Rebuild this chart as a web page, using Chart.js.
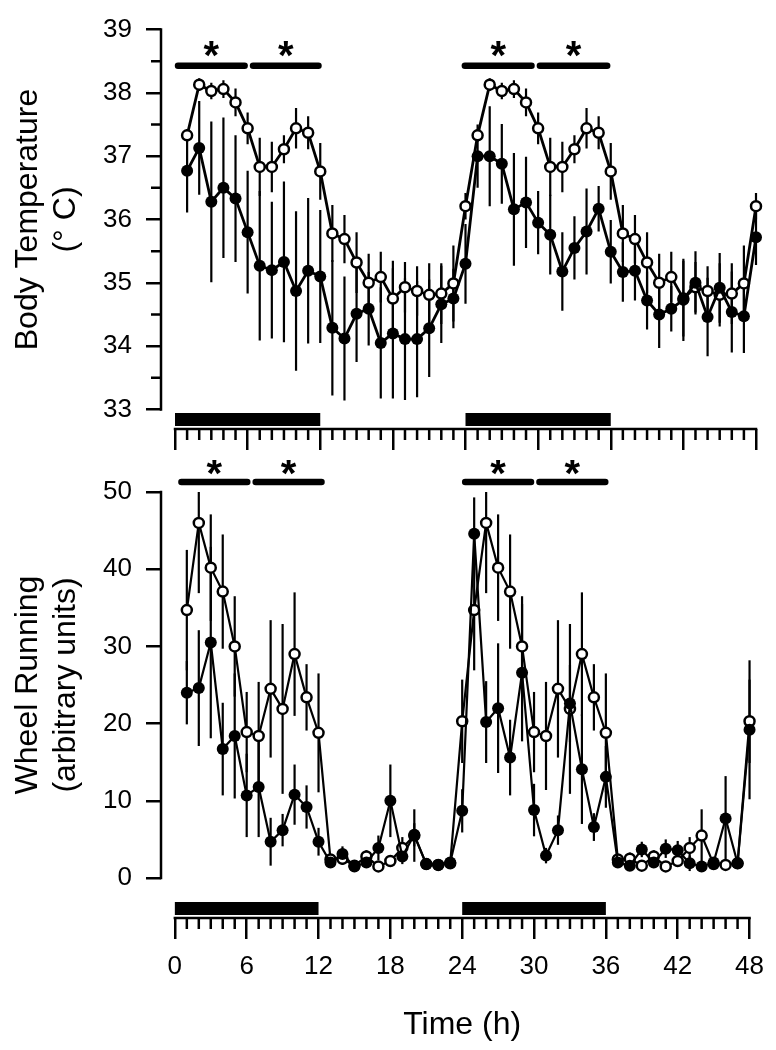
<!doctype html>
<html>
<head>
<title>Body temperature and wheel running</title>
<script src="https://cdn.jsdelivr.net/npm/chart.js@4.4.1/dist/chart.umd.min.js"></script>
<style>
  body { margin: 0; background: #fff; }
  canvas { position: absolute; left: 0; }
  #tempChart { top: 0; }
  #wheelChart { top: 460px; }
</style>
</head>
<body>
<canvas id="tempChart" width="776" height="460"></canvas>
<canvas id="wheelChart" width="776" height="590"></canvas>
<script>
const FONT = "'Liberation Sans', Arial, sans-serif";

// time axis
const hours = [1, 2, 3, 4, 5, 6, 7, 8, 9, 10, 11, 12, 13, 14, 15, 16, 17, 18, 19, 20, 21, 22, 23, 24,
  25, 26, 27, 28, 29, 30, 31, 32, 33, 34, 35, 36, 37, 38, 39, 40, 41, 42, 43, 44, 45, 46, 47, 48];
const hourTicks = [0, 1, 2, 3, 4, 5, 6, 7, 8, 9, 10, 11, 12, 13, 14, 15, 16, 17, 18, 19, 20, 21, 22, 23, 24,
  25, 26, 27, 28, 29, 30, 31, 32, 33, 34, 35, 36, 37, 38, 39, 40, 41, 42, 43, 44, 45, 46, 47, 48];
const hourLabels = [0, 6, 12, 18, 24, 30, 36, 42, 48];
const darkPhases = [[0, 12], [24, 36]];

// body temperature (deg C)
const tempOpen = [37.33, 38.13, 38.03, 38.06, 37.85, 37.44, 36.83, 36.83, 37.11, 37.44, 37.37, 36.76,
  35.78, 35.69, 35.32, 35.00, 35.09, 34.75, 34.93, 34.87, 34.81, 34.83, 34.99, 36.21,
  37.33, 38.13, 38.03, 38.06, 37.85, 37.44, 36.83, 36.83, 37.11, 37.44, 37.37, 36.76,
  35.78, 35.69, 35.32, 35.00, 35.09, 34.75, 34.93, 34.87, 34.81, 34.83, 34.99, 36.21];
const tempOpenErr = [0.10, 0.10, 0.13, 0.14, 0.22, 0.25, 0.46, 0.40, 0.22, 0.32, 0.26, 0.45,
  0.45, 0.38, 0.48, 0.46, 0.40, 0.60, 0.40, 0.39, 0.50, 0.48, 0.60, 0.21,
  0.10, 0.10, 0.13, 0.14, 0.22, 0.25, 0.46, 0.40, 0.22, 0.32, 0.26, 0.45,
  0.45, 0.38, 0.48, 0.46, 0.40, 0.60, 0.40, 0.39, 0.50, 0.48, 0.60, 0.21];
const tempFilled = [36.77, 37.13, 36.28, 36.50, 36.33, 35.80, 35.27, 35.20, 35.33, 34.87, 35.19, 35.10,
  34.29, 34.12, 34.51, 34.59, 34.05, 34.20, 34.11, 34.11, 34.28, 34.66, 34.75, 35.30,
  37.00, 37.00, 36.88, 36.16, 36.27, 35.95, 35.76, 35.18, 35.55, 35.81, 36.17, 35.49,
  35.17, 35.19, 34.72, 34.50, 34.59, 34.73, 35.00, 34.46, 34.92, 34.54, 34.47, 35.72];
const tempFilledErr = [0.66, 0.74, 1.27, 1.11, 1.00, 0.97, 1.18, 1.08, 1.27, 1.26, 1.15, 1.05,
  1.07, 0.98, 0.76, 0.58, 0.88, 1.03, 0.96, 0.92, 0.77, 0.61, 0.47, 0.63,
  0.50, 0.79, 0.63, 0.89, 0.72, 0.50, 0.63, 0.62, 0.50, 0.68, 0.36, 0.50,
  0.47, 0.47, 0.46, 0.53, 0.36, 0.65, 0.50, 0.62, 0.55, 0.64, 0.58, 0.44];
const tempTicks = [33, 33.5, 34, 34.5, 35, 35.5, 36, 36.5, 37, 37.5, 38, 38.5, 39];
const tempLabels = [33, 34, 35, 36, 37, 38, 39];
const tempSigBars = [[0, 6], [6.2, 12.1], [23.7, 29.7], [29.9, 35.95]];
const tempSigLevel = 38.43;
const tempStarLevel = 38.69;

// wheel running (arbitrary units)
const wheelOpen = [34.7, 46.0, 40.2, 37.1, 30.0, 18.9, 18.4, 24.5, 21.9, 29.0, 23.4, 18.8,
  2.4, 2.5, 1.6, 2.8, 1.5, 2.2, 3.9, 5.5, 1.8, 1.7, 1.9, 20.3,
  34.7, 46.0, 40.2, 37.1, 30.0, 18.9, 18.4, 24.5, 21.9, 29.0, 23.4, 18.8,
  2.4, 2.5, 1.6, 2.8, 1.5, 2.2, 3.9, 5.5, 1.8, 1.7, 1.9, 20.3];
const wheelOpenErr = [7.8, 9.1, 6.9, 7.4, 6.5, 5.2, 7.0, 8.9, 11.0, 8.0, 4.3, 7.7,
  0.6, 0.8, 0.5, 0.8, 0.5, 0.7, 1.4, 3.4, 0.5, 0.5, 0.6, 5.4,
  7.8, 9.1, 6.9, 7.4, 6.5, 5.2, 7.0, 8.9, 11.0, 8.0, 4.3, 7.7,
  0.6, 0.8, 0.5, 0.8, 0.5, 0.7, 1.4, 3.4, 0.5, 0.5, 0.6, 5.4];
const wheelFilled = [24.0, 24.6, 30.5, 16.7, 18.4, 10.7, 11.8, 4.7, 6.2, 10.8, 9.2, 4.7,
  2.0, 3.1, 1.5, 2.0, 3.9, 10.0, 2.8, 5.6, 1.8, 1.7, 2.0, 8.7,
  44.6, 20.2, 22.0, 15.6, 26.6, 8.8, 2.9, 6.2, 22.6, 14.1, 6.6, 13.1,
  2.0, 1.6, 3.7, 2.0, 3.8, 3.6, 1.9, 1.5, 2.0, 7.7, 1.9, 19.2];
const wheelFilledErr = [4.1, 7.5, 12.4, 6.0, 8.1, 5.4, 6.5, 3.1, 2.1, 3.9, 2.8, 1.8,
  0.6, 1.0, 0.5, 0.6, 1.6, 4.7, 1.0, 1.5, 0.4, 0.4, 0.6, 2.8,
  4.7, 5.3, 8.4, 4.9, 8.9, 3.4, 1.0, 1.9, 5.0, 7.1, 1.8, 4.0,
  0.6, 0.5, 1.0, 0.6, 1.2, 1.2, 1.0, 0.5, 0.6, 5.5, 0.5, 9.0];
const wheelTicks = [0, 10, 20, 30, 40, 50];
const wheelLabels = [0, 10, 20, 30, 40, 50];
const wheelSigBars = [[0.3, 6.3], [6.5, 12.5], [24, 30], [30.2, 36.2]];
const wheelSigLevel = 51.3;
const wheelStarLevel = 53.2;

// error bars, detached axis lines, minor ticks, light/dark bars, asterisks, titles
const figurePlugin = {
  id: 'figure',
  beforeDatasetsDraw(chart) {
    const {ctx, chartArea: a, scales: {x, y}} = chart;
    ctx.save();
    ctx.beginPath();
    ctx.rect(0, a.top, chart.width, a.bottom - a.top);
    ctx.clip();
    ctx.strokeStyle = '#000';
    ctx.lineWidth = 2.2;
    chart.data.datasets.forEach(ds => {
      ds.data.forEach((p, i) => {
        const px = x.getPixelForValue(p.x);
        ctx.beginPath();
        ctx.moveTo(px, y.getPixelForValue(p.y - ds.errors[i]));
        ctx.lineTo(px, y.getPixelForValue(p.y + ds.errors[i]));
        ctx.stroke();
      });
    });
    ctx.restore();
  },
  afterDraw(chart, args, opts) {
    const {ctx, chartArea: a, scales: {x, y}} = chart;
    ctx.save();
    ctx.strokeStyle = '#000';
    ctx.fillStyle = '#000';
    ctx.lineWidth = 2.5;

    const yTop = y.getPixelForValue(opts.yTicks[opts.yTicks.length - 1]);
    const yBot = y.getPixelForValue(opts.yTicks[0]);
    const x0 = x.getPixelForValue(hourTicks[0]);
    const x1 = x.getPixelForValue(hourTicks[hourTicks.length - 1]);
    ctx.beginPath();
    ctx.moveTo(a.left, yTop - 1.25);
    ctx.lineTo(a.left, yBot + 1.25);
    ctx.moveTo(x0 - 1.25, a.bottom);
    ctx.lineTo(x1 + 1.25, a.bottom);
    ctx.stroke();

    // minor ticks
    ctx.beginPath();
    opts.yTicks.filter(v => !opts.yLabels.includes(v)).forEach(v => {
      const py = y.getPixelForValue(v);
      ctx.moveTo(a.left - 10, py);
      ctx.lineTo(a.left, py);
    });
    hourTicks.filter(v => !hourLabels.includes(v)).forEach(v => {
      const px = x.getPixelForValue(v);
      ctx.moveTo(px, a.bottom);
      ctx.lineTo(px, a.bottom + 11);
    });
    ctx.stroke();

    // dark phase bars
    darkPhases.forEach(([s, e]) => {
      const p0 = x.getPixelForValue(s);
      const p1 = x.getPixelForValue(e);
      ctx.fillRect(p0, a.bottom - 16, p1 - p0, 13);
    });

    // significance bars and asterisks
    ctx.lineWidth = 6.5;
    ctx.lineCap = 'round';
    const sy = y.getPixelForValue(opts.sigLevel);
    opts.sigBars.forEach(([s, e]) => {
      ctx.beginPath();
      ctx.moveTo(x.getPixelForValue(s) + 3, sy);
      ctx.lineTo(x.getPixelForValue(e) - 3, sy);
      ctx.stroke();
    });
    ctx.font = 'bold 40px ' + FONT;
    ctx.textAlign = 'center';
    ctx.textBaseline = 'alphabetic';
    const m = ctx.measureText('*');
    const off = (m.actualBoundingBoxAscent - m.actualBoundingBoxDescent) / 2;
    const stY = y.getPixelForValue(opts.starLevel) + off;
    opts.sigBars.forEach(([s, e]) => {
      ctx.fillText('*', x.getPixelForValue((s + e) / 2), stY);
    });

    // axis titles
    ctx.font = '32px ' + FONT;
    const cy = (yTop + yBot) / 2;
    opts.yTitle.forEach((line, i) => {
      ctx.save();
      ctx.translate(opts.yTitleX[i], cy);
      ctx.rotate(-Math.PI / 2);
      ctx.fillText(line, 0, 0);
      ctx.restore();
    });
    if (opts.xTitle) {
      ctx.fillText(opts.xTitle, x.getPixelForValue(24), opts.xTitleY);
    }
    ctx.restore();
  }
};

function panel(id, cfg) {
  const seriesStyle = {
    showLine: true,
    clip: false,
    borderColor: '#000',
    borderWidth: cfg.lineWidth
  };
  return new Chart(document.getElementById(id), {
    type: 'scatter',
    data: {
      datasets: [{
        ...seriesStyle,
        data: hours.map((h, i) => ({x: h, y: cfg.filled[i]})),
        errors: cfg.filledErr,
        pointRadius: 6,
        pointBackgroundColor: '#000',
        pointBorderColor: '#000',
        pointBorderWidth: 0
      }, {
        ...seriesStyle,
        data: hours.map((h, i) => ({x: h, y: cfg.open[i]})),
        errors: cfg.openErr,
        pointRadius: 5,
        pointBackgroundColor: '#fff',
        pointBorderColor: '#000',
        pointBorderWidth: 2.5
      }]
    },
    options: {
      responsive: false,
      animation: false,
      devicePixelRatio: 1,
      layout: {padding: {left: 0, right: 20, top: cfg.top, bottom: 0}},
      plugins: {
        legend: {display: false},
        tooltip: {enabled: false},
        figure: {
          yTicks: cfg.yTicks,
          yLabels: cfg.yLabels,
          sigBars: cfg.sigBars,
          sigLevel: cfg.sigLevel,
          starLevel: cfg.starLevel,
          yTitle: cfg.yTitle,
          yTitleX: [37, 75],
          xTitle: cfg.xTitle,
          xTitleY: cfg.xTitleY
        }
      },
      scales: {
        x: {
          type: 'linear',
          min: -1.157,
          max: 48,
          afterBuildTicks: s => { s.ticks = hourTicks.map(v => ({value: v})); },
          afterFit: s => { s.height = cfg.xAxisHeight; },
          border: {display: false},
          grid: {
            drawOnChartArea: false,
            tickLength: 21,
            lineWidth: 2.5,
            color: c => (c.tick && hourLabels.includes(c.tick.value)) ? '#000' : 'rgba(0,0,0,0)'
          },
          ticks: {
            autoSkip: false,
            maxRotation: 0,
            minRotation: 0,
            padding: 12,
            color: '#000',
            font: {family: FONT, size: 26},
            callback: v => (cfg.xLabels && hourLabels.includes(v)) ? String(v) : ''
          }
        },
        y: {
          min: cfg.yMin,
          max: cfg.yMax,
          afterBuildTicks: s => { s.ticks = cfg.yTicks.map(v => ({value: v})); },
          afterFit: s => { s.width = 161; },
          border: {display: false},
          grid: {
            drawOnChartArea: false,
            tickLength: 15,
            lineWidth: 2.5,
            color: c => (c.tick && cfg.yLabels.includes(c.tick.value)) ? '#000' : 'rgba(0,0,0,0)'
          },
          ticks: {
            padding: 14,
            color: '#000',
            font: {family: FONT, size: 26},
            callback: v => cfg.yLabels.includes(v) ? String(v) : ''
          }
        }
      }
    },
    plugins: [figurePlugin]
  });
}

panel('tempChart', {
  open: tempOpen, openErr: tempOpenErr,
  filled: tempFilled, filledErr: tempFilledErr,
  yMin: 32.69, yMax: 39, yTicks: tempTicks, yLabels: tempLabels,
  top: 22, xAxisHeight: 31, xLabels: false, lineWidth: 2.8,
  sigBars: tempSigBars, sigLevel: tempSigLevel, starLevel: tempStarLevel,
  yTitle: ['Body Temperature', '(° C)']
});

panel('wheelChart', {
  open: wheelOpen, openErr: wheelOpenErr,
  filled: wheelFilled, filledErr: wheelFilledErr,
  yMin: -5.18, yMax: 50, yTicks: wheelTicks, yLabels: wheelLabels,
  top: 32, xAxisHeight: 132, xLabels: true, lineWidth: 2.2,
  sigBars: wheelSigBars, sigLevel: wheelSigLevel, starLevel: wheelStarLevel,
  yTitle: ['Wheel Running', '(arbitrary units)'],
  xTitle: 'Time (h)', xTitleY: 574
});
</script>
</body>
</html>
